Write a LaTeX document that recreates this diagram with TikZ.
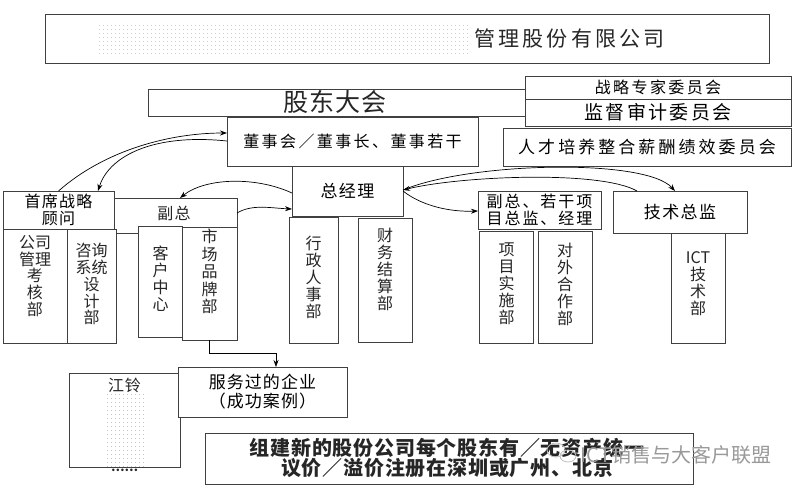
\documentclass[tikz,border=0pt]{standalone}
\usepackage{fontspec}
\setmainfont{Noto Sans CJK SC}
\usetikzlibrary{arrows.meta,patterns.meta,calc}
\newcommand\myfs[2]{\fontsize{#1}{#2}\selectfont}
\newcommand\myls[1]{\addfontfeature{LetterSpace=#1}}
\begin{document}
\begin{tikzpicture}[x=1pt,y=-1pt,
  box/.style={draw=black!75, line width=0.9pt, fill=white, inner sep=0pt, outer sep=0pt},
  txt/.style={inner sep=0pt, align=center, text=black!85},
  col/.style={txt, anchor=north, font=\myfs{16}{17}},
  arr/.style={draw=black, line width=0.7pt, -{Stealth[length=7pt,width=5pt]}},
  ]
\useasboundingbox (0,0) rectangle (794,493);
\fill[white] (0,0) rectangle (794,493);

% title
\node[box, minimum width=724pt, minimum height=49pt] (title) at (407,38.5) {};
\fill[pattern={Dots[distance=4pt,radius=0.35pt]}, pattern color=black!55] (98,25) rectangle (470,53);
\node[txt, font=\myfs{21}{24}\myls{15}] (titletext) at (569.5,38) {管理股份有限公司};

% shareholders
\node[box, minimum width=377pt, minimum height=27pt] (gudong) at (336.5,102.5) {};
\node[txt, font=\myfs{25}{28}\myls{5}] (gudongtext) at (335,102) {股东大会};

% committees
\node[box, minimum width=266pt, minimum height=23pt, font=\myfs{16}{18}\myls{15}] (zhanlue) at (658,87.5) {战略专家委员会};
\node[box, minimum width=266pt, minimum height=27pt, font=\myfs{19}{21}\myls{12}] (jiandu) at (658,112.5) {监督审计委员会};
\node[box, minimum width=288pt, minimum height=38pt, font=\myfs{17}{19}\myls{18}] (rencai) at (647,147) {人才培养整合薪酬绩效委员会};

% board
\node[box, minimum width=251pt, minimum height=49pt, font=\myfs{16}{18}\myls{15}] (dongshi) at (352.5,141.5) {董事会／董事长、董事若干};

% general manager
\node[box, minimum width=111pt, minimum height=50pt, font=\myfs{17}{19}\myls{8}] (zjl) at (347.5,191) {总经理};
\node[box, minimum width=49pt, minimum height=126pt] (xingzheng) at (313.5,280) {};
\node[col] (xingzhengtext) at (313.5,236) {行\\政\\人\\事\\部};
\node[box, minimum width=54pt, minimum height=124pt] (caiwu) at (385,280) {};
\node[col] (caiwutext) at (385,228) {财\\务\\结\\算\\部};

% vice + project
\node[box, minimum width=123pt, minimum height=38pt, font=\myfs{16}{17}\myls{12}, align=center] (fuzong2) at (539.5,210) {副总、若干项\\目总监、经理};
\node[box, minimum width=54pt, minimum height=112pt] (xiangmu) at (506,287) {};
\node[col] (xiangmutext) at (506.5,243) {项\\目\\实\\施\\部};
\node[box, minimum width=54pt, minimum height=112pt] (duiwai) at (565,287) {};
\node[col] (duiwaitext) at (565,243) {对\\外\\合\\作\\部};

% tech director
\node[box, minimum width=134pt, minimum height=42pt, font=\myfs{17}{19}\myls{8}] (jishu) at (680,212) {技术总监};
\node[box, minimum width=54pt, minimum height=110pt] (ict) at (698,288) {};
\node[col] (icttext) at (698,251) {ICT\\技\\术\\部};

% vice (left)
\node[box, minimum width=123pt, minimum height=35pt] (fuzong) at (175.5,215.5) {};
\node[txt, font=\myfs{16}{18}\myls{8}] (fuzongtext) at (174,213) {副总};
\node[box, minimum width=44pt, minimum height=111pt] (kehu) at (160,281.5) {};
\node[col] (kehutext) at (160.5,246) {客\\户\\中\\心};
\node[box, minimum width=55pt, minimum height=113pt] (shichang) at (209.5,283.5) {};
\node[col, font=\myfs{16}{17.5}] (shichangtext) at (209.5,229) {市\\场\\品\\牌\\部};

% chief strategy advisor
\node[box, minimum width=111pt, minimum height=38pt, font=\myfs{16}{17}\myls{8}, align=center] (shouxi) at (58.5,210) {首席战略\\顾问};
\node[box, minimum width=64pt, minimum height=114pt] (gongsi) at (35,286) {};
\node[col, font=\myfs{16}{16.8}] (gongsitext) at (35,235) {公司\\管理\\考\\核\\部};
\node[box, minimum width=49pt, minimum height=114pt] (zixun) at (91.5,286) {};
\node[col, font=\myfs{16}{16.8}] (zixuntext) at (91.5,243) {咨询\\系统\\设\\计\\部};

% cases
\node[box, minimum width=111pt, minimum height=94pt] (jiangling) at (124.5,420) {};
\fill[pattern={Dots[distance=4pt,radius=0.35pt]}, pattern color=black!55] (107,393) rectangle (147,466);
\node[txt, font=\myfs{16}{18}\myls{5}] (jianglingtext) at (124.5,385) {江铃};
\node[txt, font=\myfs{12}{14}\bfseries] (dots) at (124.5,470) {……};
\node[box, minimum width=169pt, minimum height=50pt, font=\myfs{17}{19}\myls{6}, align=center] (fuwu) at (262.5,392) {服务过的企业\\（成功案例）};

% new company
\node[box, minimum width=488pt, minimum height=51pt] (zujian) at (449,458.5) {};
\node[txt, font=\myfs{20}{20.5}\bfseries\myls{4}] (zujiantext) at (447,458) {组建新的股份公司每个股东有／无资产统一\\议价／溢价注册在深圳或广州、北京};

% watermark
\draw[black!25, line width=0.8pt] (556,450) ellipse (9pt and 7pt);
\draw[black!25, line width=0.8pt] (568,456) ellipse (8pt and 6pt);
\node[txt, text=black!40, font=\myfs{20}{22}] (wm) at (676,455) {ICT销售与大客户联盟};

% connectors
\draw[arr] ($(shouxi.north west)!0.5!(shouxi.north east)$) .. controls (105,150) and (170,133) .. ($(dongshi.north west)+(0,16)$);
\draw[arr] ($(dongshi.north west)+(0,24)$) .. controls (150,133) and (108,158) .. ($(shouxi.north west)+(95,0)$);
\draw[arr] ($(zjl.north west)+(0,27)$) .. controls (255,176) and (205,178) .. ($(fuzong.north west)+(66,0)$);
\draw[arr] ($(fuzong.north east)+(0,15)$) .. controls (252,204) and (270,208) .. ($(zjl.north west)+(0,43)$);
\draw[arr] ($(zjl.north east)+(0,25)$) .. controls (422,206) and (450,212) .. ($(fuzong2.north west)+(0,20)$);
\draw[arr] ($(zjl.north east)+(0,24)$) .. controls (470,162) and (645,158) .. ($(jishu.north west)+(62,0)$);
\draw[arr] ($(jishu.north west)+(24,0)$) .. controls (600,170) and (460,176) .. ($(zjl.north east)+(0,24)$);
\draw[arr] (shichang.south) -- ++(0,13) -| ([xshift=13.5pt]fuwu.north);
\end{tikzpicture}
\end{document}
